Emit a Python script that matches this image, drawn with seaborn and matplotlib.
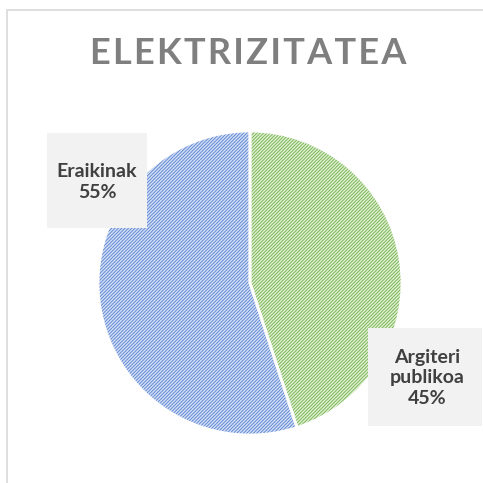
import matplotlib
matplotlib.use("Agg")
import matplotlib.pyplot as plt
import seaborn as sns
from matplotlib.patches import Rectangle

sns.set_style("white")
plt.rcParams['font.family'] = ['Lato', 'DejaVu Sans']
plt.rcParams['hatch.linewidth'] = 0.6

title = "ELEKTRIZITATEA"
labels = ["Argiteri\npublikoa", "Eraikinak"]
values = [45, 55]
face_colors = ["#dcefcf", "#d2def4"]
hatch_colors = ["#72b04c", "#5580d2"]

W = H = 483
fig = plt.figure(figsize=(4.83, 4.83), dpi=100)

# outer frame
fig.patches.append(Rectangle((7 / W, -0.05), 1.2, 1 - 10 / H + 0.05, transform=fig.transFigure,
                             fill=False, edgecolor="#d9d9d9", linewidth=1.2))

ax = fig.add_axes([98 / W, 48 / H, 304 / W, 304 / H])
wedges, _ = ax.pie(values, startangle=90, counterclock=False, colors=face_colors,
                   wedgeprops=dict(linewidth=0))
for w, hc in zip(wedges, hatch_colors):
    w.set_edgecolor(hc)
    w.set_hatch("//////////")
    w.set_linewidth(0)
ax.pie(values, startangle=90, counterclock=False,
       wedgeprops=dict(edgecolor="white", linewidth=2, fill=False))
ax.set_xlim(-1.0, 1.0)
ax.set_ylim(-1.0, 1.0)

# letter-spaced title
fig.text(248 / W, 1 - 53.5 / H, "\u200a".join(title), ha="center", va="center", fontsize=26,
         fontweight="bold", color="#7f7f7f")

# label boxes
boxes = [(368, 328, 482, 426), (47, 133, 147, 228)]
centers = [(427, 378), (97, 182)]
for lab, val, (x0, y0, x1, y1), (cx, cy) in zip(labels, values, boxes, centers):
    fig.patches.append(Rectangle((x0 / W, 1 - y1 / H), (x1 - x0) / W, (y1 - y0) / H,
                                 transform=fig.transFigure, facecolor="#f2f2f2",
                                 edgecolor="none", zorder=3))
    fig.text(cx / W, 1 - cy / H, f"{lab}\n{val}%", ha="center", va="center",
             fontsize=14, fontweight="bold", color="#404040", linespacing=1.25, zorder=4)

fig.savefig("out.png", dpi=100)
